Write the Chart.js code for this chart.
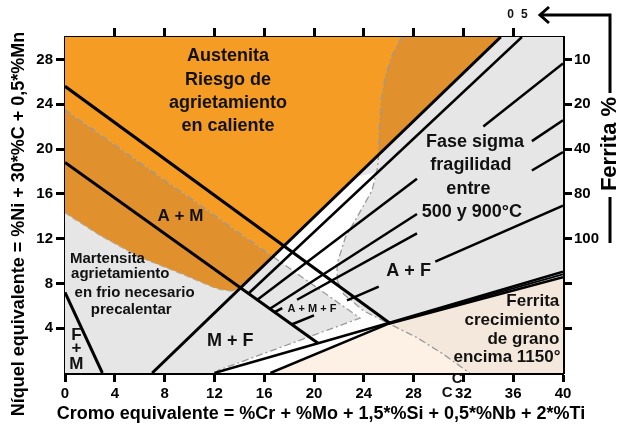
<!DOCTYPE html>
<html><head><meta charset="utf-8">
<script src="https://cdn.jsdelivr.net/npm/chart.js@4/dist/chart.umd.min.js"></script>
<style>html,body{margin:0;padding:0;background:#fff}canvas{display:block}</style>
</head><body>
<canvas id="c" width="619" height="426" style="width:619px;height:426px"></canvas>
<script>
// ---- Tick values / labels ----
const xTicks = [0,4,8,12,16,20,24,28,32,36,40];
const xTopTicks = [4,8,12,16,20,24,28,32,36];
const yTicks = [4,8,12,16,20,24,28];
const ferriteTickPos = [28,24,20,16,12,8,4];
const ferriteTickLabels = ['10','20','40','80','100','',''];

// ---- Boundary lines (Cr eq, Ni eq); null = break ----
const lineA  = [[7,0],[35,30]];
const lineB  = [[14.74,7.1],[36.7,30]];
const lineD1 = [[0,25.6],[26.04,4.48]];
const lineD2 = [[0,18.8],[20.33,2.66]];
const lineFM = [[0,7.2],[3,0]];
const lineL1 = [[12,0],[26,4.47],[40,9.05]];
const lineL2 = [[16.5,0],[26,4.4],[40,8.55]];
const lineL3 = [[26,4.43],[40,8.8]];
const ferrite10 = [[15.45,6.53],[28.27,17.34],null,[33.6,22.0],[40,27.64]];
const ferrite20 = [[16.46,5.73],[28.27,14.2],null,[37.5,20.7],[40,22.56]];
const ferrite40 = [[16.84,5.43],[17.45,5.8],null,[18.64,6.54],[28.27,12.47],null,[37.5,18.08],[40,19.72]];
const ferrite80 = [[18.2,4.33],[20.0,5.15],null,[22.65,6.48],[25.2,7.72],null,[29.74,9.94],[40,14.95]];

// ---- Dashed boundaries ----
const dashAM = [[0,23.5],[23.7,4.9],[12.2,0.2]];
const dashSigma = [[27.06,30],[26.28,28.38],[25.72,26.4],[25.4,24.35],[25.24,21.67],[25.16,18.98],[25.06,18.08],[24.66,16.29],[23.45,13.9],[22.52,12.11],[21.85,9.73],[21.87,8.24],[22.38,7.05],[23.98,5.55],[25.86,4.5],[28.27,3.16],[30.4,1.67],[32.5,0]];
const dashMart = [[0,14.3],[2.85,12.26],[6.06,10.32],[9.27,8.9],[11.94,7.64],[12.5,7.45],[13.5,7.3],[14.25,7.78]];

// ---- Filled regions ----
const regionAll = [[0,0],[40,0],[40,30],[0,30]];
const regionAustenite = [[0,30],[35,30],[16.68,10.39],[0,23.5]];
const regionAMLeft = [[0,23.5],[16.68,10.39],[14.25,7.78],[13.5,7.3],[12.5,7.45],[11.94,7.64],[9.27,8.9],[6.06,10.32],[2.85,12.26],[0,14.3]];
const regionAMRight = [[27.06,30],[26.28,28.38],[25.72,26.4],[25.4,24.35],[25.24,21.67],[25.17,19.5],[35,30]];
const regionWhite = [[16.68,10.39],[23.3,17.5],[25.05,17.9],[24.66,16.29],[23.45,13.9],[22.52,12.11],[21.85,9.73],[21.87,8.24],[22.38,7.05],[23.98,5.55],[25.86,4.45],[12,0],[12.2,0.2],[23.7,4.9]];
const regionWhiteLow = [[12,0],[16.5,0],[26,4.4],[26,4.47]];
const regionFerriteA = [[16.5,0],[26,4.4],[28.27,3.16],[30.4,1.67],[32.5,0]];
const regionFerriteB = [[26,4.4],[40,8.55],[40,0],[32.5,0],[30.4,1.67],[28.27,3.16]];

// ---- styles ----
const FONT = "'Liberation Sans', Arial, sans-serif";
const regions = [
  {pts: regionAll, color: '#e6e6e6'},
  {pts: regionFerriteA, color: '#fdf1e6'},
  {pts: regionFerriteB, color: '#f4e7db'},
  {pts: regionWhite, color: '#ffffff'},
  {pts: regionWhiteLow, color: '#ffffff'},
  {pts: regionAustenite, color: '#f59c24'},
  {pts: regionAMLeft, color: '#e0902c'},
  {pts: regionAMRight, color: '#e0902c'}
];

const labels = [
  {t:'Austenita', x:13.1, y:28.3, s:18},
  {t:'Riesgo de', x:13.1, y:26.15, s:18},
  {t:'agrietamiento', x:13.1, y:24.1, s:18},
  {t:'en caliente', x:13.1, y:22.05, s:18},
  {t:'A + M', x:9.27, y:14.0, s:17},
  {t:'Martensita', x:3.41, y:10.18, s:15},
  {t:'agrietamiento', x:4.44, y:8.84, s:15},
  {t:'en frio necesario', x:5.59, y:7.19, s:15},
  {t:'precalentar', x:5.32, y:5.61, s:15},
  {t:'F', x:0.92, y:3.4, s:17},
  {t:'+', x:0.92, y:2.18, s:17},
  {t:'M', x:0.92, y:0.78, s:17},
  {t:'M + F', x:13.28, y:2.86, s:18},
  {t:'A + M + F', x:19.84, y:5.7, s:11},
  {t:'A + F', x:27.6, y:9.13, s:18},
  {t:'Fase sigma', x:32.94, y:20.6, s:18},
  {t:'fragilidad', x:32.6, y:18.53, s:18},
  {t:'entre', x:32.4, y:16.45, s:18},
  {t:'500 y 900°C', x:32.68, y:14.35, s:18},
  {t:'Ferrita', x:39.7, y:6.38, s:17, a:'right'},
  {t:'crecimiento', x:39.75, y:4.66, s:17, a:'right'},
  {t:'de grano', x:39.7, y:3.04, s:17, a:'right'},
  {t:'encima 1150°', x:39.8, y:1.37, s:17, a:'right'},
  {t:'0', x:35.8, y:31.95, s:12},
  {t:'5', x:36.9, y:31.95, s:12},
  {t:'C', x:30.7, y:-1.75, s:15},
  {t:'C', x:31.5, y:-0.55, s:15}
];

function toXY(arr){ return arr.map(p => p ? {x:p[0], y:p[1]} : null); }
function segments(arr){
  const out=[]; let cur=[];
  arr.forEach(p=>{ if(p===null){ if(cur.length) out.push(cur); cur=[]; } else cur.push({x:p[0],y:p[1]}); });
  if(cur.length) out.push(cur); return out;
}
const datasets = [];
function addLine(arr, width, color, dash, order){
  segments(arr).forEach(seg => datasets.push({
    data: seg, showLine: true, pointRadius: 0, pointHoverRadius: 0,
    borderColor: color, borderWidth: width, borderDash: dash || [],
    fill: false, tension: 0, order: order
  }));
}
[lineA, lineD1, lineD2, lineFM].forEach(l => addLine(l, 3, '#000', null, 0));
[lineB, lineL1, lineL2, ferrite10, ferrite20, ferrite40, ferrite80].forEach(l => addLine(l, 2.5, '#000', null, 0));
addLine(lineL3, 1.8, '#000', null, 0);
[dashAM, dashSigma].forEach(l => addLine(l, 1.3, '#9a9a9a', [7,3,2,3], 1));
addLine(dashMart, 1.2, '#b9a58a', [6,3], 1);

const regionPlugin = {
  id: 'regions',
  beforeDatasetsDraw(chart){
    const {ctx, chartArea:a, scales} = chart; const x=scales.x, y=scales.y;
    ctx.save(); ctx.beginPath(); ctx.rect(a.left,a.top,a.right-a.left,a.bottom-a.top); ctx.clip();
    regions.forEach(r => {
      ctx.beginPath();
      r.pts.forEach((p,i)=>{ const px=x.getPixelForValue(p[0]), py=y.getPixelForValue(p[1]); if(i) ctx.lineTo(px,py); else ctx.moveTo(px,py); });
      ctx.closePath(); ctx.fillStyle=r.color; ctx.fill();
    });
    ctx.restore();
  },
  afterDraw(chart){
    const {ctx, chartArea:a, scales} = chart; const x=scales.x, y=scales.y;
    ctx.save();
    ctx.fillStyle='#111'; ctx.textBaseline='middle';
    labels.forEach(l => {
      ctx.font = 'bold ' + l.s + 'px ' + FONT;
      ctx.textAlign = l.a || 'center';
      ctx.fillText(l.t, x.getPixelForValue(l.x), y.getPixelForValue(l.y));
    });
    // axis titles
    ctx.fillStyle='#000';
    ctx.font = 'bold 18px ' + FONT; ctx.textAlign='center';
    ctx.fillText('Cromo equivalente = %Cr + %Mo + 1,5*%Si + 0,5*%Nb + 2*%Ti', (a.left+a.right)/2 + 7, a.bottom + 41);
    ctx.save(); ctx.translate(19, 224); ctx.rotate(-Math.PI/2);
    ctx.fillText('Níquel equivalente = %Ni + 30*%C + 0,5*%Mn', 0, 0); ctx.restore();
    // Ferrita % with arrow
    const fx = a.right + 47;
    ctx.save(); ctx.translate(fx, 144); ctx.rotate(-Math.PI/2);
    ctx.font = 'bold 22px ' + FONT; ctx.fillText('Ferrita %', 0, 0); ctx.restore();
    ctx.strokeStyle='#000'; ctx.lineWidth=3; ctx.lineCap='butt';
    ctx.beginPath(); ctx.moveTo(fx, 93); ctx.lineTo(fx, 15); ctx.lineTo(a.right-22, 15); ctx.stroke();
    ctx.beginPath(); ctx.moveTo(fx, 197); ctx.lineTo(fx, 243); ctx.stroke();
    ctx.beginPath(); ctx.moveTo(a.right-14, 7); ctx.lineTo(a.right-23, 15); ctx.lineTo(a.right-14, 23); ctx.stroke();
    ctx.restore();
  }
};

const tickFont = {family: FONT, size: 15, weight: 'bold'};
function fixed(ticks){ return s => { s.ticks = ticks.map(v => ({value: v})); }; }
const common = {
  grid: {drawOnChartArea: false, drawTicks: true, tickLength: 9, tickWidth: 3, tickColor: '#000'},
  border: {display: true, width: 3, color: '#000'}
};

new Chart(document.getElementById('c'), {
  type: 'scatter',
  data: {datasets},
  options: {
    responsive: false, devicePixelRatio: 1, animation: false,
    layout: {padding: 0},
    plugins: {legend: {display: false}, tooltip: {enabled: false}},
    events: [],
    scales: {
      x: Object.assign({type:'linear', position:'bottom', min:0, max:40,
        afterBuildTicks: fixed(xTicks), afterFit: s => { s.height = 53; },
        ticks: {font: tickFont, color:'#000', padding: 3, maxRotation: 0, autoSkip: false}}, common),
      xTop: Object.assign({type:'linear', position:'top', min:0, max:40,
        afterBuildTicks: fixed(xTopTicks), afterFit: s => { s.height = 37; },
        ticks: {callback: () => '', font: tickFont}}, common),
      y: Object.assign({type:'linear', position:'left', min:0, max:30,
        afterBuildTicks: fixed(yTicks), afterFit: s => { s.width = 65; },
        ticks: {font: tickFont, color:'#000', padding: 3, autoSkip: false}}, common),
      yRight: Object.assign({type:'linear', position:'right', min:0, max:30,
        afterBuildTicks: fixed(ferriteTickPos), afterFit: s => { s.width = 56; },
        ticks: {font: tickFont, color:'#000', padding: 2, autoSkip: false,
          callback: v => { const i = ferriteTickPos.indexOf(v); return i >= 0 ? ferriteTickLabels[i] : ''; }}}, common)
    }
  },
  plugins: [regionPlugin]
});
</script>
</body></html>
